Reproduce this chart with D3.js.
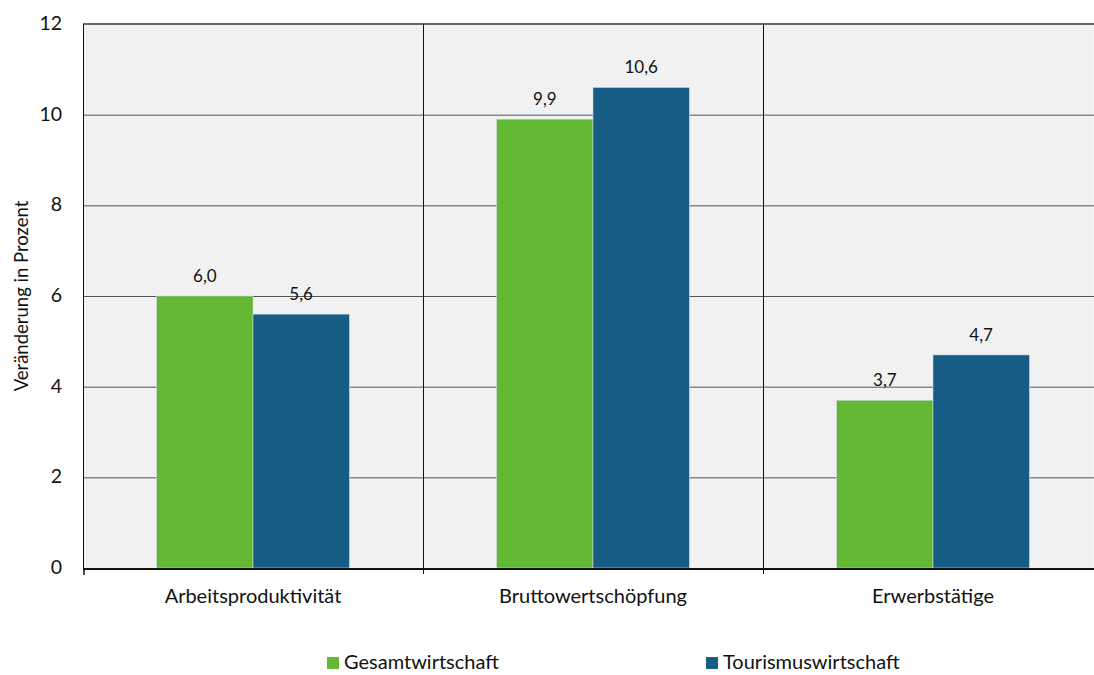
<!DOCTYPE html>
<html><head><meta charset="utf-8">
<script src="https://cdn.jsdelivr.net/npm/d3@7"></script>
<style>body{margin:0;background:#fff;} svg{display:block;font-family:Lato,"Open Sans",sans-serif;}</style>
</head><body>
<svg id="c" width="1094" height="675"></svg>
<script>
const categories = ["Arbeitsproduktivität","Bruttowertschöpfung","Erwerbstätige"];
const seriesNames = ["Gesamtwirtschaft","Tourismuswirtschaft"];
const gesamt = [6.0, 9.9, 3.7];
const tourismus = [5.6, 10.6, 4.7];
const yTicks = [0,2,4,6,8,10,12];
const colors = ["#62b832","#165c85"];

const svg = d3.select("#c");
const L = 83, R = 1103, T = 24, B = 568;
const x = d3.scaleBand().domain(categories).range([L,R]).paddingInner(0).paddingOuter(0);
const xi = d3.scaleBand().domain(seriesNames).range([0,x.bandwidth()]).paddingInner(0).paddingOuter(0.7647);
const y = d3.scaleLinear().domain([0,12]).range([B,T]);

const defs = svg.append("defs");
const pat = defs.append("pattern").attr("id","bg").attr("width",4).attr("height",4).attr("patternUnits","userSpaceOnUse");
pat.append("rect").attr("width",4).attr("height",4).attr("fill","#f3f3f3");
pat.append("rect").attr("x",0).attr("y",0).attr("width",1).attr("height",1).attr("fill","#e6e6e6");
pat.append("rect").attr("x",2).attr("y",2).attr("width",1).attr("height",1).attr("fill","#e6e6e6");

svg.append("rect").attr("x",L).attr("y",T).attr("width",R-L).attr("height",B-T).attr("fill","url(#bg)");

// gridlines
svg.append("g").selectAll("line").data(yTicks.filter(d=>d>0 && d<12)).join("line")
  .attr("x1",L).attr("x2",R).attr("y1",d=>y(d)+0.5).attr("y2",d=>y(d)+0.5)
  .attr("stroke","#555").attr("stroke-width",1);
svg.append("line").attr("x1",L).attr("x2",R).attr("y1",y(12)).attr("y2",y(12)).attr("stroke","#666").attr("stroke-width",2);

// category separators
svg.append("g").selectAll("line").data(categories.slice(1)).join("line")
  .attr("x1",d=>Math.round(x(d))+0.5).attr("x2",d=>Math.round(x(d))+0.5).attr("y1",T).attr("y2",B+6)
  .attr("stroke","#111").attr("stroke-width",1);

// bars
const data = [];
categories.forEach((c,i)=>{ data.push({c,s:seriesNames[0],v:gesamt[i]}); data.push({c,s:seriesNames[1],v:tourismus[i]}); });
svg.append("g").selectAll("rect").data(data).join("rect")
  .attr("x",d=>x(d.c)+xi(d.s)).attr("width",xi.bandwidth())
  .attr("y",d=>y(d.v)).attr("height",d=>y(0)-y(d.v))
  .attr("fill",(d)=>colors[seriesNames.indexOf(d.s)])
  .attr("stroke","#c9d6de").attr("stroke-width",0.6);

// value labels
svg.append("g").selectAll("text").data(data).join("text")
  .attr("x",d=>x(d.c)+xi(d.s)+xi.bandwidth()/2).attr("y",d=>y(d.v)-14)
  .attr("text-anchor","middle").attr("font-size",17).attr("fill","#111")
  .text(d=>d.v.toFixed(1).replace(".",","));

// y axis
svg.append("line").attr("x1",L+0.5).attr("x2",L+0.5).attr("y1",T).attr("y2",B).attr("stroke","#111").attr("stroke-width",1);
svg.append("g").selectAll("text").data(yTicks).join("text")
  .attr("x",62).attr("y",d=>y(d)+6).attr("text-anchor","end").attr("font-size",19.5).attr("fill","#111").text(d=>d);

// x axis
svg.append("line").attr("x1",L).attr("x2",R).attr("y1",B+1).attr("y2",B+1).attr("stroke","#111").attr("stroke-width",2);
svg.append("g").selectAll("line").data([L+1]).join("line")
  .attr("x1",d=>d).attr("x2",d=>d).attr("y1",B).attr("y2",B+7).attr("stroke","#111").attr("stroke-width",1.5);
svg.append("g").selectAll("text").data(categories).join("text")
  .attr("x",d=>x(d)+x.bandwidth()/2).attr("y",603).attr("text-anchor","middle").attr("font-size",20).attr("fill","#111").text(d=>d);

// y title
svg.append("text").attr("transform","translate(28,296) rotate(-90)").attr("text-anchor","middle")
  .attr("font-size",18.5).attr("fill","#111").text("Veränderung in Prozent");

// legend
const legX = [327, 706];
const lg = svg.append("g").selectAll("g").data(seriesNames).join("g")
  .attr("transform",(d,i)=>`translate(${legX[i]},657)`);
lg.append("rect").attr("width",12).attr("height",12).attr("fill",(d,i)=>colors[i]);
lg.append("text").attr("x",17).attr("y",12).attr("font-size",20).attr("fill","#111").text(d=>d);
</script>
</body></html>
